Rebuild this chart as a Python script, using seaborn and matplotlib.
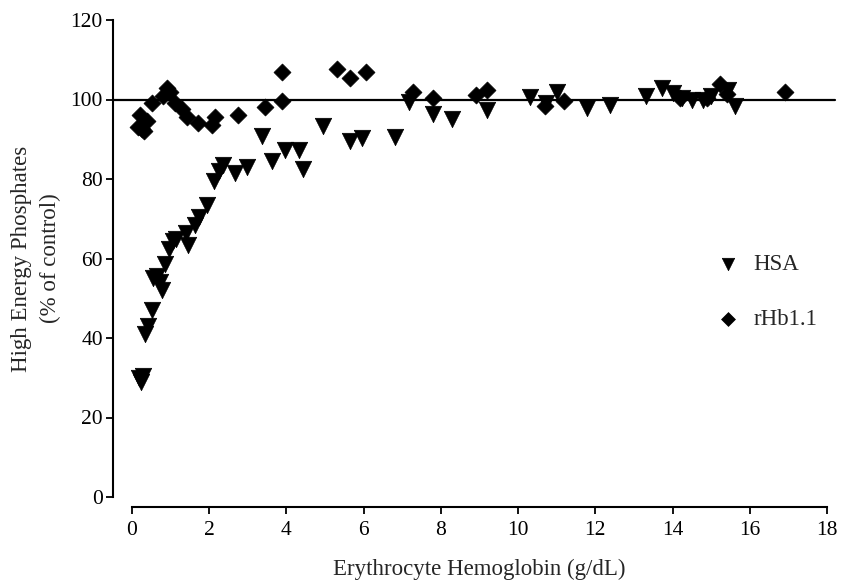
import matplotlib
matplotlib.use("Agg")
import matplotlib.pyplot as plt
import seaborn as sns
import pandas as pd

hsa_x = [0.18, 0.24, 0.28, 0.34, 0.42, 0.52, 0.55, 0.64, 0.72, 0.78, 0.85, 0.95,
         1.05, 1.15, 1.40, 1.45, 1.62, 1.74, 1.94, 2.12, 2.25, 2.36, 2.67, 2.98,
         3.36, 3.62, 3.96, 4.33, 4.43, 4.95, 5.65, 5.95, 6.80, 7.18, 7.80, 8.30,
         9.20, 10.30, 10.72, 11.00, 11.78, 12.38, 13.30, 13.72, 14.02, 14.24,
         14.50, 14.80, 15.00, 15.44, 15.62]
hsa_y = [30, 29, 30.5, 41, 43, 47, 55, 55.5, 54, 52, 58.5, 62.5,
         64.5, 65, 66.5, 63.5, 68.5, 70.5, 73.5, 79.5, 82, 83.5, 81.5, 83,
         90.7, 84.5, 87.4, 87.4, 82.4, 93.3, 89.5, 90.4, 90.6, 99.3, 96.3, 95.2,
         97.3, 100.6, 99, 102, 97.8, 98.5, 101, 103, 101.6, 100.4,
         100, 100, 100.8, 102.5, 98.3]

rhb_x = [0.16, 0.21, 0.25, 0.30, 0.38, 0.51, 0.81, 0.90, 0.98, 1.11, 1.29, 1.42,
         1.71, 2.06, 2.15, 2.75, 3.45, 3.88, 3.88, 5.30, 5.65, 6.06, 7.28, 7.80,
         8.91, 9.20, 10.70, 11.20, 14.20, 14.90, 15.23, 15.40, 16.90]
rhb_y = [93, 96, 92.5, 92, 94.5, 99, 101, 103, 102, 99, 97.5, 95.5,
         94, 93.5, 95.5, 96.2, 98, 99.6, 107, 107.6, 105.3, 107, 102, 100.4,
         101.2, 102.3, 98.3, 99.6, 100.5, 100.5, 104, 101.5, 102]

series_names = ["HSA", "rHb1.1"]
control_level = 100
x_ticks = [0, 2, 4, 6, 8, 10, 12, 14, 16, 18]
y_ticks = [0, 20, 40, 60, 80, 100, 120]

df_hsa = pd.DataFrame({"x": hsa_x, "y": hsa_y})
df_rhb = pd.DataFrame({"x": rhb_x, "y": rhb_y})

sns.set_style("ticks")
plt.rcParams["font.family"] = ["Liberation Serif", "DejaVu Serif"]
plt.rcParams["font.size"] = 15

fig = plt.figure(figsize=(8.45, 5.82), dpi=100)
ax = fig.add_axes([132 / 845, 1 - 497 / 582, 695 / 845, 477 / 582])

sns.scatterplot(data=df_hsa, x="x", y="y", marker="v", s=140, color="black",
                edgecolor="black", linewidth=0.5, ax=ax, label=series_names[0],
                clip_on=False, zorder=3)
sns.scatterplot(data=df_rhb, x="x", y="y", marker="D", s=75, color="black",
                edgecolor="black", linewidth=0.5, ax=ax, label=series_names[1],
                clip_on=False, zorder=3)

ax.axhline(control_level, xmin=-0.028, xmax=1.012, color="black", lw=1.6,
           clip_on=False, zorder=2)

ax.set_xlim(0, 18)
ax.set_ylim(0, 120)
ax.set_xticks(x_ticks)
ax.set_yticks(y_ticks)
ax.tick_params(axis="both", direction="out", length=5, width=1.3,
               color="black", labelcolor="black", labelsize=15.5)
ax.tick_params(axis="x", pad=5)
ax.tick_params(axis="y", pad=2)

sns.despine(ax=ax, offset={"left": 14, "bottom": 7})
for side in ("left", "bottom"):
    ax.spines[side].set_linewidth(1.5)
    ax.spines[side].set_color("black")

ax.set_xlabel("Erythrocyte Hemoglobin (g/dL)", fontsize=16.5, labelpad=14)
ax.set_ylabel("High Energy Phosphates\n(% of control)", fontsize=16.5,
              labelpad=7, linespacing=1.45)

leg = ax.legend(loc="center left", bbox_to_anchor=(0.812, 0.43), frameon=False,
                fontsize=16.5, labelspacing=1.45, handletextpad=0.6,
                handlelength=1.0)
handles = leg.legend_handles
handles[0].set_sizes([80])
handles[1].set_sizes([50])

fig.savefig("out.png", dpi=100)
